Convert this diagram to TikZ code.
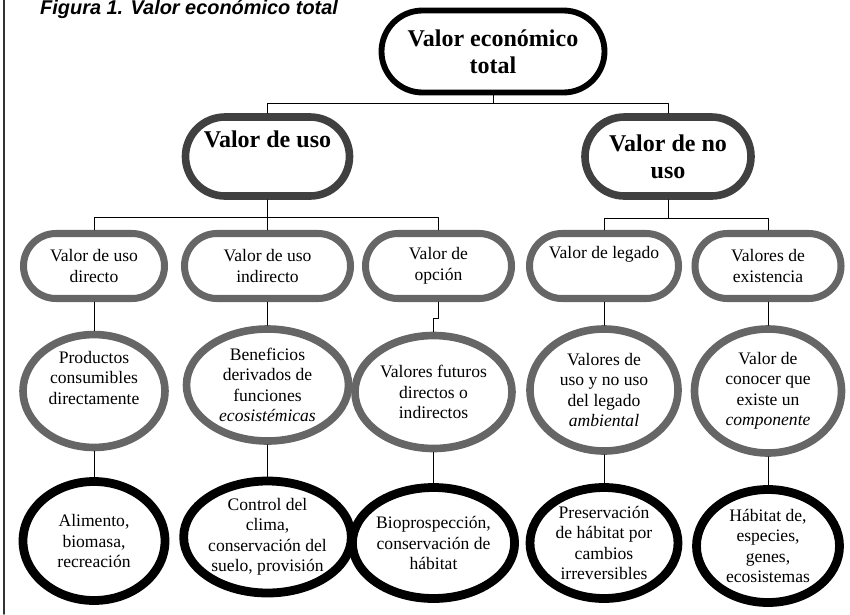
\documentclass[tikz,border=0pt]{standalone}
\usepackage{fontspec}
\setmainfont{Liberation Serif}
\newfontfamily\titlefont{Liberation Sans}
\usetikzlibrary{shapes.geometric,shapes.misc}

\tikzset{
  tam/.style 2 args={minimum width=#1*0.3mm, minimum height=#2*0.3mm},
  raiz/.style={rounded rectangle, draw=black, line width=5pt, inner sep=0pt,
    align=center, font=\bfseries\fontsize{20.5}{23}\selectfont},
  tipo/.style={rounded rectangle, draw=black!75, line width=6.5pt, inner sep=0pt,
    align=center, font=\bfseries\fontsize{20.5}{23}\selectfont},
  valor/.style={rounded rectangle, draw=black!60, line width=6pt, inner sep=0pt,
    align=center, font=\fontsize{15}{18}\selectfont},
  desc/.style={ellipse, draw=black!60, line width=6.5pt, inner sep=0pt,
    align=center, font=\fontsize{15}{17.5}\selectfont},
  ejemplo/.style={ellipse, draw=black, line width=7.5pt, inner sep=0pt,
    align=center, font=\fontsize{15}{17.5}\selectfont},
  link/.style={draw=black, line width=0.8pt}
}

\begin{document}
\begin{tikzpicture}[
  x=0.3mm,
  y=-0.3mm,
  line cap=round,
  line join=round
]
  \useasboundingbox (0,0) rectangle (850,614);

  % Marco y titulo
  \draw[black!80, line width=1.5pt] (4,0) -- (4,614);
  \node[anchor=base west, inner sep=0pt,
    font=\titlefont\bfseries\itshape\fontsize{17}{20}\selectfont]
    (titulo) at (40,14.5) {Figura 1. Valor económico total};

  % Barras de reparto
  \coordinate (r1) at (0,103);
  \coordinate (r2) at (0,217);
  \coordinate (r3) at (0,218);
  \coordinate (r4) at (0,318);

  % Valor total
  \node[raiz, tam={223}{82}] (T) at (493,51.5) {Valor económico\\total};

  % Uso / no uso
  \node[tipo, tam={164}{79}] (U) at (267.5,156.5) {Valor de uso\\ \strut};
  \node[tipo, tam={166}{79}] (N) at (668,156.5) {Valor de no\\uso};

  % Tipos de valor
  \node[valor, tam={141}{65}] (A2) at (94,266) {Valor de uso\\directo};
  \node[valor, tam={166}{65}] (B2) at (267.5,266) {Valor de uso\\indirecto};
  \node[valor, tam={146}{65}] (C2) at (438.5,266) {Valor de\\opción};
  \node[valor, tam={149}{65}] (D2) at (604,266) {Valor de legado\\ \strut};
  \node[valor, tam={146}{65}] (E2) at (768,266) {Valores de\\existencia};

  % Descripciones
  \node[desc, tam={142}{110}] (A3) at (94,391)
    {Productos\\consumibles\\directamente\\ \strut};
  \node[desc, tam={162}{112}] (B3) at (267.5,385)
    {Beneficios\\derivados de\\funciones\\\textit{ecosistémicas}};
  \node[desc, tam={157}{113}] (C3) at (433.5,392)
    {Valores futuros\\directos o\\indirectos};
  \node[desc, tam={148}{122}] (D3) at (604,390)
    {Valores de\\uso y no uso\\del legado\\\textit{ambiental}};
  \node[desc, tam={147}{124}] (E3) at (768,391)
    {Valor de\\conocer que\\existe un\\\textit{componente}};

  % Ejemplos
  \node[ejemplo, tam={142}{119}] (A4) at (94,541)
    {Alimento,\\biomasa,\\recreación};
  \node[ejemplo, tam={161}{112}] (B4) at (267.5,537)
    {Control del\\clima,\\conservación del\\suelo, provisión};
  \node[ejemplo, tam={156}{111}] (C4) at (433.5,543)
    {Bioprospección,\\conservación de\\hábitat};
  \node[ejemplo, tam={148}{111}] (D4) at (604,543)
    {Preservación\\de hábitat por\\cambios\\irreversibles};
  \node[ejemplo, tam={143}{113}] (E4) at (768,546)
    {Hábitat de,\\especies,\\genes,\\ecosistemas};

  % Conectores
  \draw[link] (T.south) -- (T.south |- r1) -| (U.north);
  \draw[link] (T.south |- r1) -| (N.north);
  \draw[link] (U.south) -- (B2.north);
  \draw[link] (A2.north) |- (C2.north |- r2) -- (C2.north);
  \draw[link] (N.south) -- (N.south |- r3);
  \draw[link] (D2.north) |- (E2.north |- r3) -- (E2.north);

  \draw[link] (A2.south) -- (A3.north);
  \draw[link] (B2.south) -- (B3.north);
  \draw[link] (C2.south) |- (C3.north |- r4) -- (C3.north);
  \draw[link] (D2.south) -- (D3.north);
  \draw[link] (E2.south) -- (E3.north);

  \draw[link] (A3.south) -- (A4.north);
  \draw[link] (B3.south) -- (B4.north);
  \draw[link] (C3.south) -- (C4.north);
  \draw[link] (D3.south) -- (D4.north);
  \draw[link] (E3.south) -- (E4.north);
\end{tikzpicture}
\end{document}
